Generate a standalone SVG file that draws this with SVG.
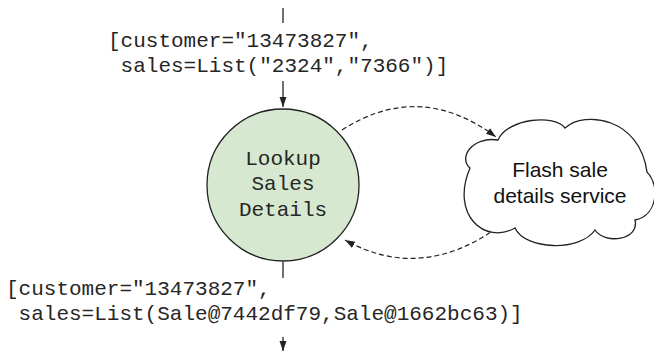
<svg xmlns="http://www.w3.org/2000/svg" width="654" height="352" viewBox="0 0 654 352">
<style>
.mono{font-family:"Courier New","Liberation Mono",monospace;font-size:21px;fill:#262626}
.sans{font-family:"Liberation Sans",Arial,sans-serif;font-size:21px;fill:#111;text-anchor:middle}
.ln{stroke:#222;stroke-width:1.3;fill:none}
.dash{stroke:#222;stroke-width:1.2;fill:none;stroke-dasharray:5 3}
</style>
<defs>
<marker id="ah" markerUnits="userSpaceOnUse" markerWidth="10" markerHeight="8" refX="10" refY="3.5" orient="auto">
<path d="M0,0 L10,3.5 L0,7 z" fill="#222"/>
</marker>
</defs>
<rect width="654" height="352" fill="#fff"/>
<g id="connectors">
<line class="ln" x1="283" y1="8" x2="283" y2="23"/>
<line class="ln" x1="283" y1="81" x2="283" y2="107" marker-end="url(#ah)"/>
<line class="ln" x1="283" y1="262" x2="283" y2="278"/>
<line class="ln" x1="283" y1="337" x2="283" y2="351" marker-end="url(#ah)"/>
<path class="dash" d="M342,130 Q420,80 496,137" marker-end="url(#ah)"/>
<path class="dash" d="M497,228 Q420,282 345,240" marker-end="url(#ah)"/>
</g>
<g id="label-in">
<text class="mono" x="108" y="47" xml:space="preserve">[customer="13473827",</text>
<text class="mono" x="108" y="72" xml:space="preserve"> sales=List("2324","7366")]</text>
</g>
<g id="lookup">
<circle cx="283" cy="185" r="76" fill="#d6e8d0" stroke="#222" stroke-width="1.3"/>
<text class="mono" x="283" y="165" text-anchor="middle">Lookup</text>
<text class="mono" x="283" y="190" text-anchor="middle">Sales</text>
<text class="mono" x="283" y="216" text-anchor="middle">Details</text>
</g>
<g id="service">
<path d="M470,168 C458,158 472,136 498,140 C508,118 555,114 565,128 C585,110 640,118 647,172 C660,185 658,215 635,220 C640,240 605,245 595,230 C580,252 525,250 515,228 C485,245 450,215 470,168 Z" fill="#fff" stroke="#222" stroke-width="1.3"/>
<text class="sans" x="560" y="177">Flash sale</text>
<text class="sans" x="560" y="203">details service</text>
</g>
<g id="label-out">
<text class="mono" x="6" y="295" xml:space="preserve">[customer="13473827",</text>
<text class="mono" x="6" y="320" xml:space="preserve"> sales=List(Sale@7442df79,Sale@1662bc63)]</text>
</g>
</svg>
